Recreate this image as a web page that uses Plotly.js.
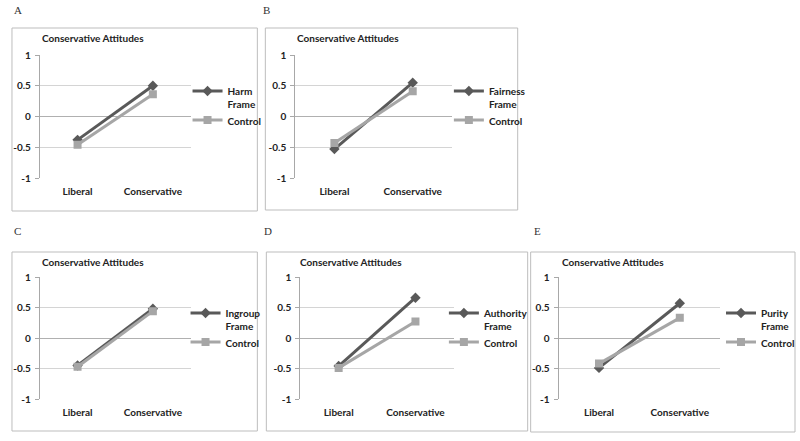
<!DOCTYPE html>
<html>
<head>
<meta charset="utf-8">
<script src="https://cdn.plot.ly/plotly-3.0.1.min.js"></script>
<style>
  html, body { margin: 0; padding: 0; background: #fff; }
  #chart { width: 800px; height: 441px; }
</style>
</head>
<body>
<div id="chart"></div>
<script>
// dados
const categories = ['Liberal', 'Conservative'];
const panelLetters = ['A', 'B', 'C', 'D', 'E'];
const frameNames = ['Harm<br>Frame', 'Fairness<br>Frame', 'Ingroup<br>Frame', 'Authority<br>Frame', 'Purity<br>Frame'];
const controlName = 'Control';
const frameValues = [[-0.38, 0.50], [-0.53, 0.55], [-0.45, 0.48], [-0.46, 0.66], [-0.49, 0.57]];
const controlValues = [[-0.46, 0.36], [-0.43, 0.41], [-0.47, 0.44], [-0.49, 0.27], [-0.42, 0.33]];
const yTicks = [-1, -0.5, 0, 0.5, 1];
const chartTitle = 'Conservative Attitudes';

const W = 800, H = 441;
const px = v => v / W;
const py = v => 1 - v / H;

// posições em pixels de cada painel
const panels = [
  { plot: [40, 191, 55, 178], box: [12, 258, 28, 211], letter: [12, 10], title: [40, 38], legend: [188, 78] },
  { plot: [296, 453, 55, 178], box: [266, 519, 28, 210], letter: [262, 10], title: [296, 38], legend: [450, 78] },
  { plot: [40, 191, 277, 399], box: [12, 258, 252, 431], letter: [12, 231], title: [40, 262], legend: [186, 300] },
  { plot: [301, 455, 277, 399], box: [267, 529, 252, 431], letter: [263, 231], title: [299, 262], legend: [445, 300] },
  { plot: [560, 722, 277, 399], box: [532, 797, 252, 432], letter: [533, 231], title: [561, 262], legend: [723, 300] }
];

const font = { family: 'Lato, "Open Sans", sans-serif', size: 10, color: '#222' };
const boldFont = { family: font.family, size: 10, color: '#222', weight: 'bold' };
const frameColor = '#595959';
const controlColor = '#a6a6a6';

const traces = [];
const shapes = [];
const annotations = [];
const layout = {
  width: W, height: H,
  margin: { l: 0, r: 0, t: 0, b: 0 },
  paper_bgcolor: '#fff',
  plot_bgcolor: 'rgba(0,0,0,0)',
  font: font
};

panels.forEach(function(p, i) {
  const n = i === 0 ? '' : String(i + 1);
  const legendKey = 'legend' + n;

  traces.push({
    type: 'scatter', mode: 'lines+markers',
    x: categories, y: frameValues[i],
    xaxis: 'x' + n, yaxis: 'y' + n,
    name: frameNames[i], legend: legendKey,
    line: { color: frameColor, width: 3 },
    marker: { symbol: 'diamond', size: 8, color: frameColor }
  });
  traces.push({
    type: 'scatter', mode: 'lines+markers',
    x: categories, y: controlValues[i],
    xaxis: 'x' + n, yaxis: 'y' + n,
    name: controlName, legend: legendKey,
    line: { color: controlColor, width: 3 },
    marker: { symbol: 'square', size: 8, color: controlColor }
  });

  layout['xaxis' + n] = {
    domain: [px(p.plot[0]), px(p.plot[1])],
    anchor: 'y' + n,
    type: 'category',
    range: [-0.5, 1.5],
    showgrid: false, zeroline: false, showline: false,
    ticks: '', ticklabelstandoff: 6,
    tickfont: boldFont,
    fixedrange: true
  };
  layout['yaxis' + n] = {
    domain: [py(p.plot[3]), py(p.plot[2])],
    anchor: 'x' + n,
    range: [-1, 1],
    tickvals: yTicks,
    ticktext: yTicks.map(String),
    showgrid: true, gridcolor: '#d4d4d4', gridwidth: 1,
    zeroline: true, zerolinecolor: '#b0b0b0', zerolinewidth: 1,
    showline: true, linecolor: '#a8a8a8', linewidth: 1,
    ticks: 'outside', ticklen: 4, tickcolor: '#a8a8a8', ticklabelstandoff: 2,
    tickfont: boldFont,
    fixedrange: true
  };
  layout[legendKey] = {
    x: px(p.legend[0]), y: py(p.legend[1]),
    xanchor: 'left', yanchor: 'top',
    bgcolor: 'rgba(0,0,0,0)', borderwidth: 0,
    font: boldFont,
    itemwidth: 30, valign: 'top', tracegroupgap: 0
  };

  shapes.push({
    type: 'rect', xref: 'paper', yref: 'paper',
    x0: px(p.box[0]), x1: px(p.box[1]), y0: py(p.box[3]), y1: py(p.box[2]),
    line: { color: '#bdbdbd', width: 1 }, fillcolor: 'rgba(0,0,0,0)', layer: 'below'
  });

  annotations.push({
    xref: 'paper', yref: 'paper', x: px(p.letter[0]), y: py(p.letter[1]),
    xanchor: 'left', yanchor: 'middle', showarrow: false,
    text: panelLetters[i],
    font: { family: '"Liberation Serif", "DejaVu Serif", serif', size: 11, color: '#333' }
  });
  annotations.push({
    xref: 'paper', yref: 'paper', x: px(p.title[0]), y: py(p.title[1]),
    xanchor: 'left', yanchor: 'middle', showarrow: false,
    text: chartTitle,
    font: boldFont
  });
});

layout.shapes = shapes;
layout.annotations = annotations;

Plotly.newPlot('chart', traces, layout, { displayModeBar: false, staticPlot: true });
</script>
</body>
</html>
